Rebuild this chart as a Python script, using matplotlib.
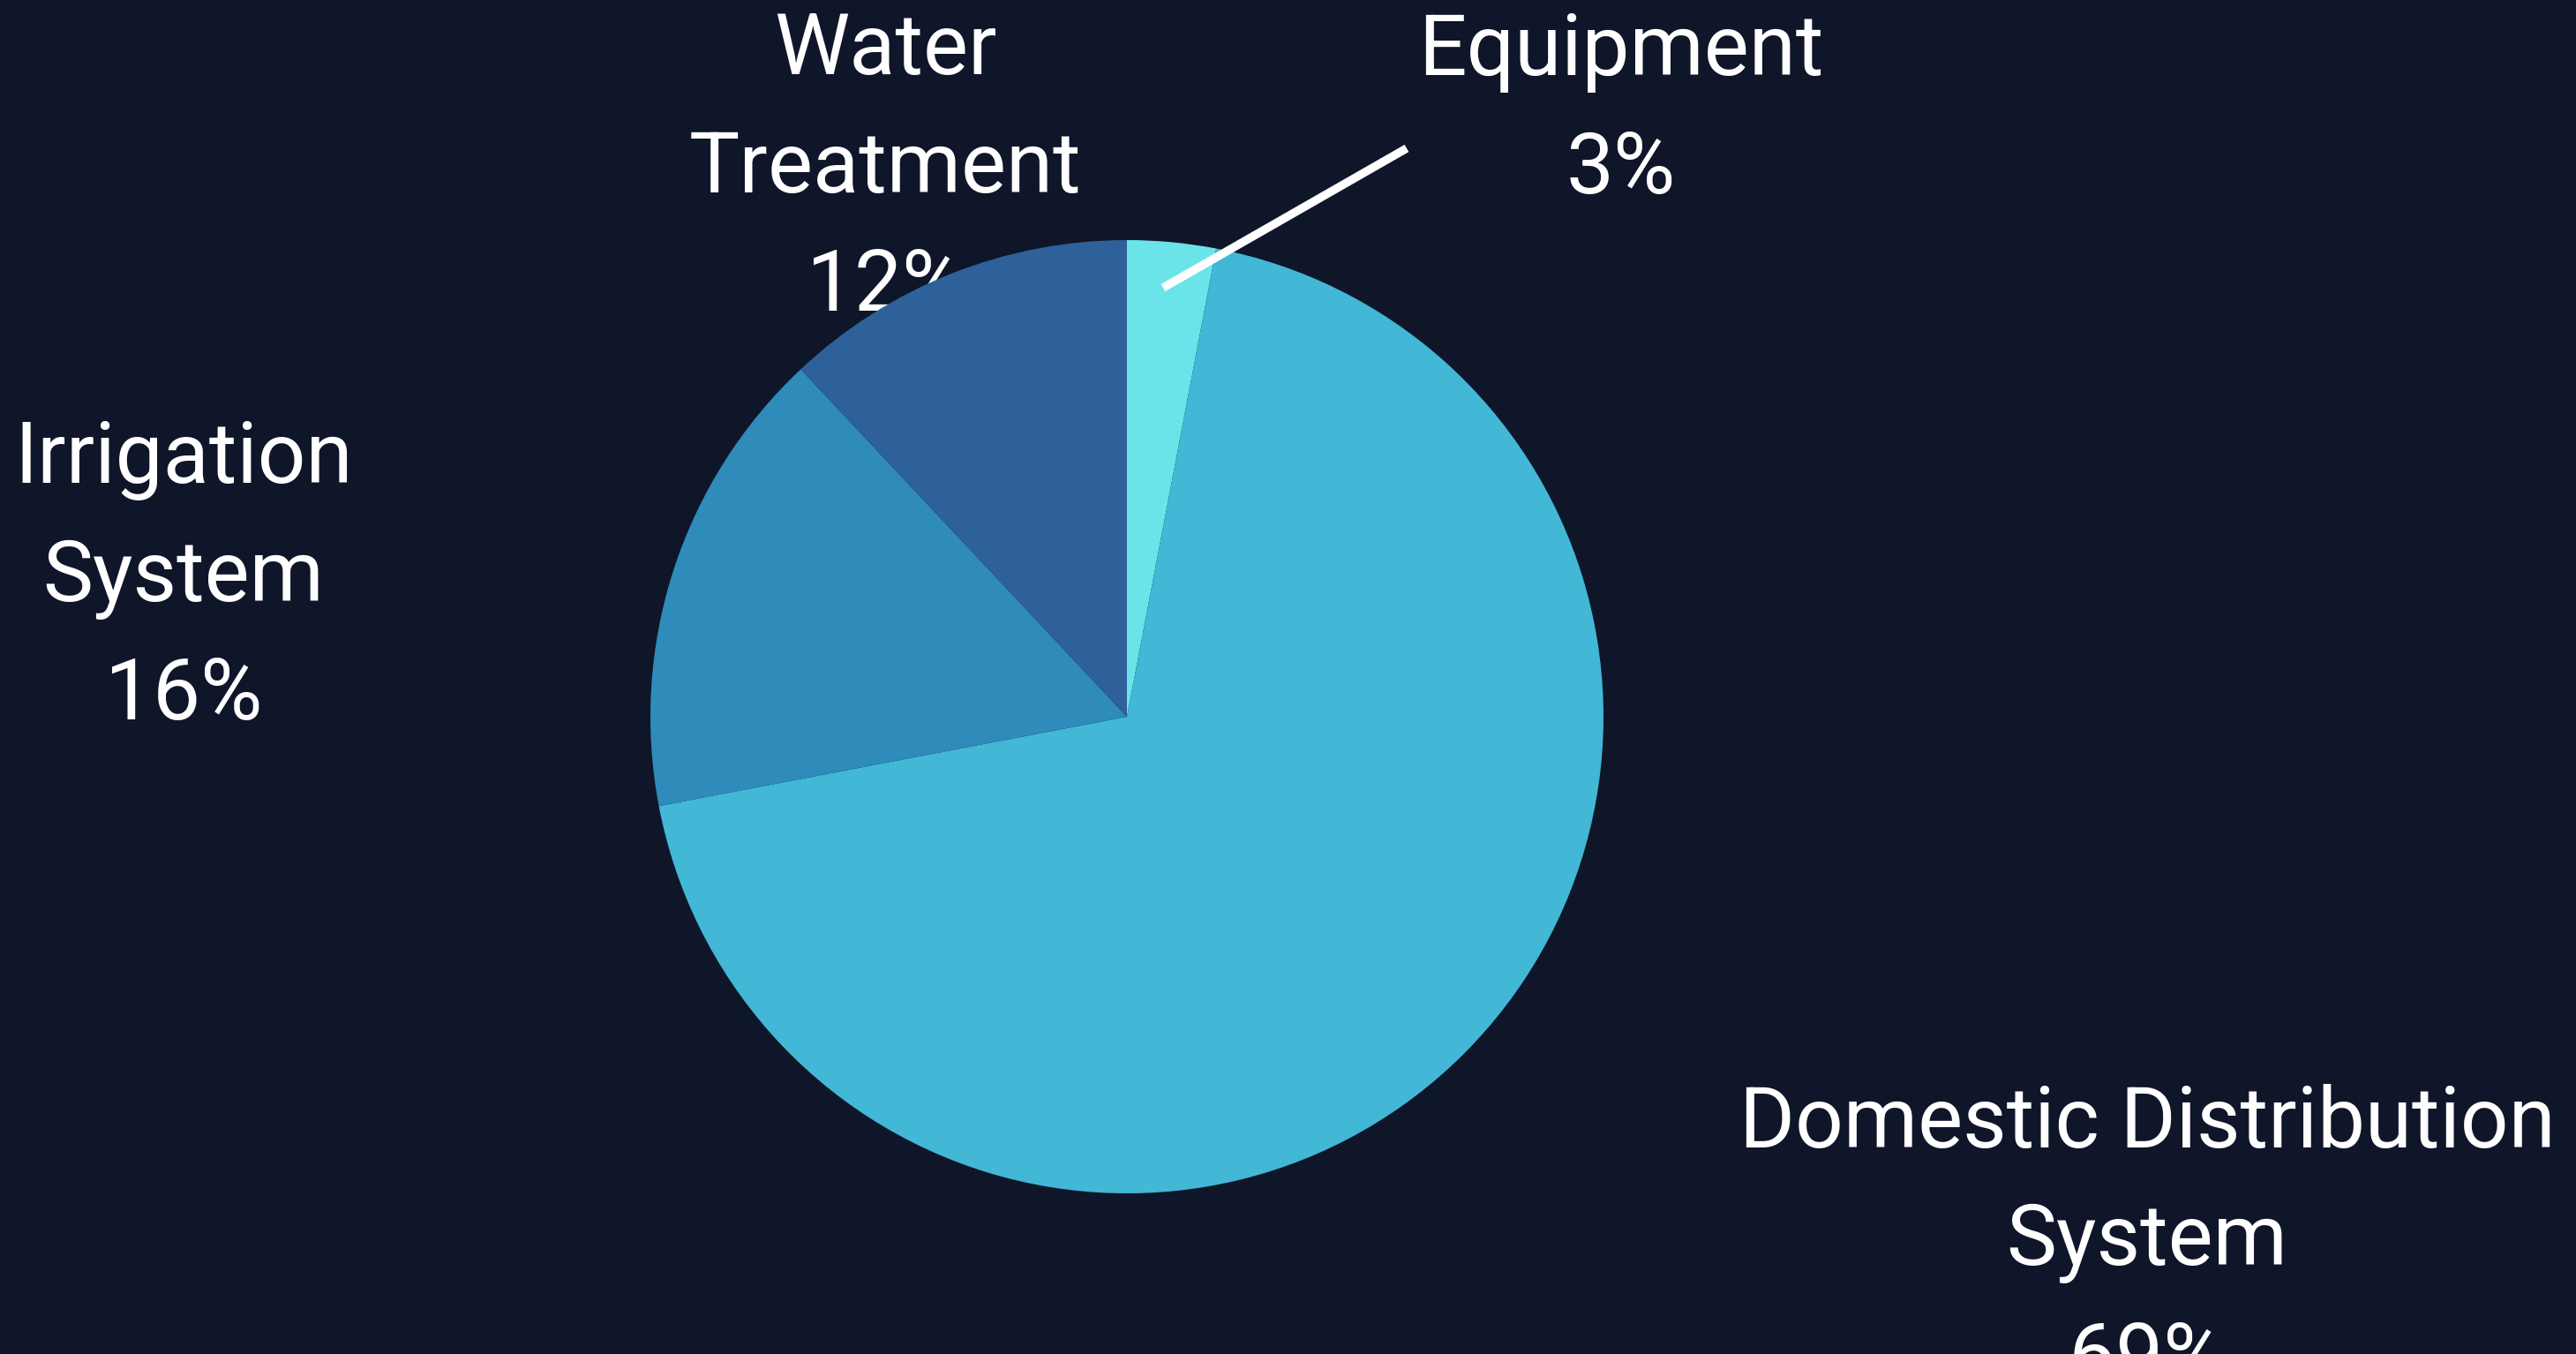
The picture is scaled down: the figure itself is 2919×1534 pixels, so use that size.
import matplotlib.pyplot as plt

# ----- Data -----
categories = ['Equipment', 'Domestic Distribution System', 'Irrigation System', 'Water Treatment']
shares = [3, 69, 16, 12]
label_texts = ['Equipment\n3%', 'Domestic Distribution\nSystem\n69%', 'Irrigation\nSystem\n16%', 'Water\nTreatment\n12%']

# ----- Style -----
bg = '#0f1629'
colors = ['#6ae4e8', '#42b7d6', '#2e8bba', '#2e6199']
# label centres in pixel space (x, y from top)
label_pos = [(1837, 126), (2433, 1408), (208, 655), (1003, 192)]

W, H, DPI = 2919, 1534, 200
plt.rcParams['font.family'] = ['Roboto', 'DejaVu Sans']

fig = plt.figure(figsize=(W / DPI, H / DPI), dpi=DPI, facecolor=bg)
ax = fig.add_axes([0, 0, 1, 1])
ax.set_facecolor(bg)

wedges, _ = ax.pie(shares, colors=colors, startangle=90, counterclock=False,
                   center=(1277, H - 812), radius=540, frame=True,
                   wedgeprops={'linewidth': 0, 'zorder': 3})
ax.set_xlim(0, W)
ax.set_ylim(0, H)
ax.set_aspect('equal')
ax.axis('off')

for txt, (x, y) in zip(label_texts, label_pos):
    ax.text(x, H - y, txt, color='white', fontsize=34.6, ha='center', va='center',
            linespacing=1.58, zorder=2)

# leader line for the small slice
ax.plot([1318, 1594], [H - 326, H - 168], color='white', lw=3.4, zorder=4,
        solid_capstyle='butt')

fig.savefig('out.png', dpi=DPI, facecolor=bg)
